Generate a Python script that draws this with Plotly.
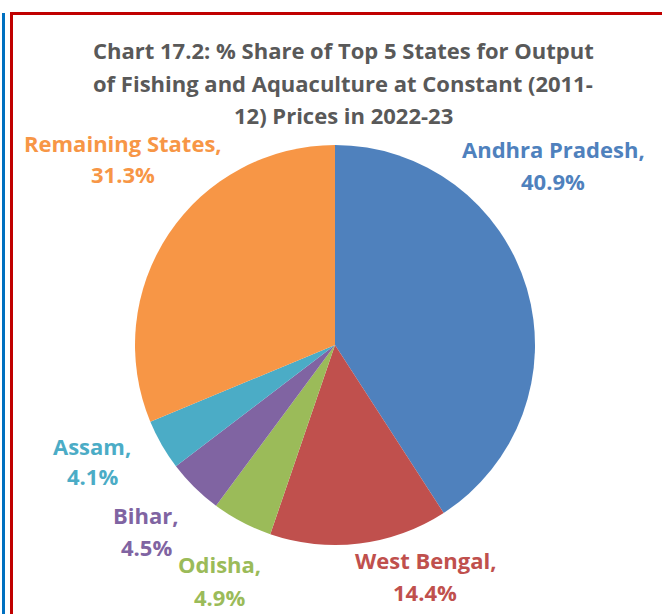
import plotly.graph_objects as go

W, H = 662, 614

states = ["Andhra Pradesh", "West Bengal", "Odisha", "Bihar", "Assam", "Remaining States"]
shares = [40.9, 14.4, 4.9, 4.5, 4.1, 31.3]
colors = ["#4F81BD", "#C0504D", "#9BBB59", "#8064A2", "#4BACC6", "#F79646"]

# label centre positions in pixels: x, y of name line, y of value line
label_pos = [(553, 149, 181), (425, 560, 592), (219, 564, 597),
             (146, 515, 547), (92, 446, 476), (123, 143, 174)]

title_lines = ["Chart 17.2: % Share of Top 5 States for Output",
               "of Fishing and Aquaculture at Constant (2011-",
               "12) Prices in 2022-23"]
title_y = [50, 83, 115]

FONT = "Open Sans"


def px(x, y):
    return x / W, 1 - y / H


def text_at(x, y, text, color, size=22):
    ax, ay = px(x, y)
    return dict(x=ax, y=ay, xref="paper", yref="paper", showarrow=False,
                xanchor="center", yanchor="middle", text=text,
                font=dict(family=FONT, size=size, color=color, weight="bold"))


fig = go.Figure(go.Pie(
    labels=states, values=shares, sort=False, direction="clockwise",
    marker=dict(colors=colors, line=dict(width=0)),
    textinfo="none", hoverinfo="label+percent",
    domain=dict(x=[135 / W, 535 / W], y=[1 - 545 / H, 1 - 145 / H]),
))

annotations = []
for name, v, c, (lx, y1, y2) in zip(states, shares, colors, label_pos):
    annotations.append(text_at(lx, y1, f"{name},", c))
    annotations.append(text_at(lx, y2, f"{v}%", c))

for line, ty in zip(title_lines, title_y):
    annotations.append(text_at(343, ty, line, "#595959"))

shapes = [
    # blue outer line
    dict(type="line", xref="paper", yref="paper",
         x0=3.5 / W, x1=3.5 / W, y0=0, y1=1 - 13 / H,
         line=dict(color="#0070C0", width=3)),
    # red frame left and top
    dict(type="line", xref="paper", yref="paper",
         x0=11.5 / W, x1=11.5 / W, y0=0, y1=1 - 13 / H,
         line=dict(color="#C00000", width=3)),
    dict(type="line", xref="paper", yref="paper",
         x0=10 / W, x1=1, y0=1 - 13.5 / H, y1=1 - 13.5 / H,
         line=dict(color="#C00000", width=3)),
]

fig.update_layout(
    width=W, height=H, margin=dict(l=0, r=0, t=0, b=0),
    paper_bgcolor="white", plot_bgcolor="white",
    showlegend=False, annotations=annotations, shapes=shapes,
)

fig.write_html("out.html", config={"displayModeBar": False},
               post_script="document.body.style.margin='0';")
